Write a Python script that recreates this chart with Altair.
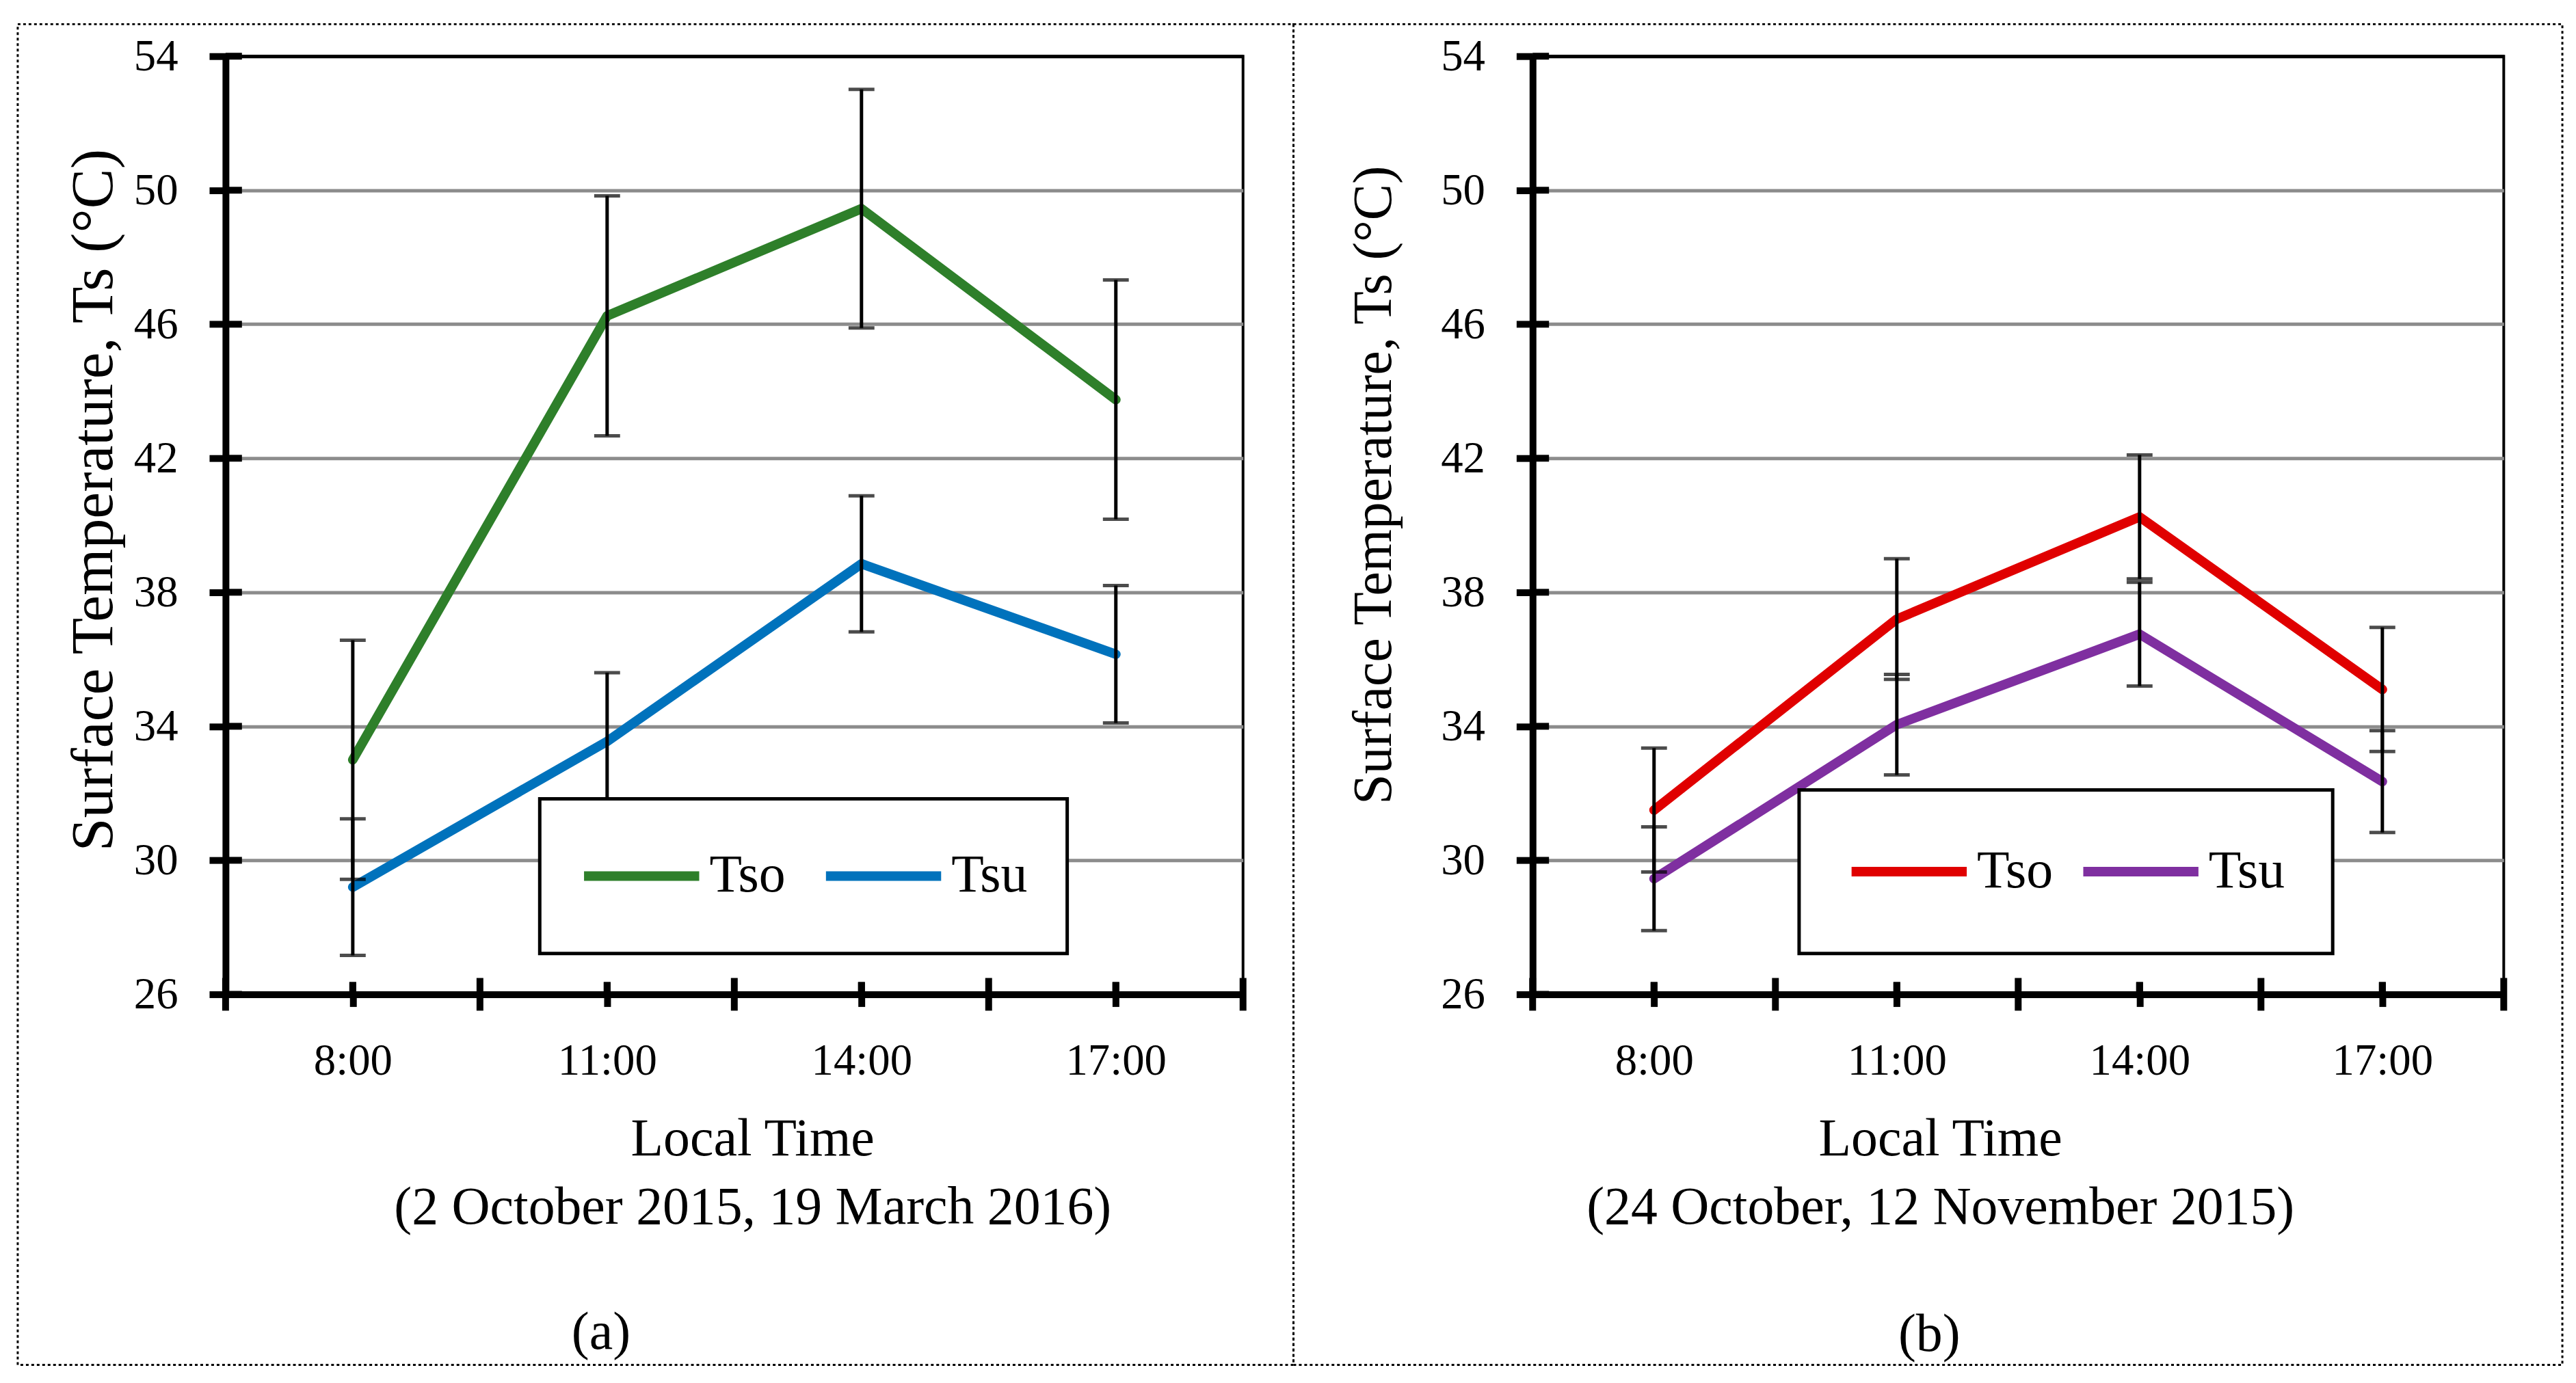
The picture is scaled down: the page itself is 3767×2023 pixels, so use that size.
import json
import altair as alt
import pandas as pd

# ---------------- data ----------------
categories = ["8:00", "11:00", "14:00", "17:00"]
series_names = ["Tso", "Tsu"]

a_tso = [33.0, 46.25, 49.45, 43.75]
a_tso_err = [3.57, 3.58, 3.56, 3.57]
a_tsu = [29.2, 33.55, 38.85, 36.15]
a_tsu_err = [2.04, 2.05, 2.03, 2.05]

b_tso = [31.5, 37.2, 40.25, 35.1]
b_tso_err = [1.85, 1.8, 1.85, 1.85]
b_tsu = [29.45, 34.05, 36.75, 32.35]
b_tsu_err = [1.55, 1.5, 1.55, 1.52]

y_ticks = [26, 30, 34, 38, 42, 46, 50, 54]

a_colors = ["#2e7f2a", "#0072bc"]
b_colors = ["#e00000", "#7f2fa0"]

a_subtitle = "(2 October 2015, 19 March 2016)"
b_subtitle = "(24 October, 12 November 2015)"
x_title = "Local Time"
y_title = "Surface Temperature, Ts (°C)"

FONT = "Liberation Serif"
H = 1377


def build(tso, tso_err, tsu, tsu_err):
    rows = []
    for name, vals, errs in [("Tso", tso, tso_err), ("Tsu", tsu, tsu_err)]:
        for i, (c, v, e) in enumerate(zip(categories, vals, errs)):
            rows.append(dict(time=c, pos=i + 0.5, series=name, value=v,
                             lo=v - e, hi=v + e))
    return pd.DataFrame(rows)


def panel(df, colors, W, subtitle, letter, yt_size, yt_x, yt_y, xt_x,
          leg, border, letter_pos):
    n = len(categories)
    xs = alt.Scale(domain=[0, n], nice=False, zero=False)
    ys = alt.Scale(domain=[y_ticks[0], y_ticks[-1]], nice=False, zero=False)
    label_expr = "%s[floor(datum.value)]" % json.dumps(categories)
    x_axis = alt.Axis(values=[i + 0.5 for i in range(n)], labelExpr=label_expr,
                      grid=False, tickSize=18, labelFontSize=65,
                      labelBaseline="alphabetic", labelPadding=99,
                      labelFlush=False, labelOverlap=False,
                      title=[x_title, subtitle], titleFontSize=78,
                      titleX=xt_x, titleY=236, titleBaseline="alphabetic",
                      titleAlign="center", titleLineHeight=100)
    y_axis = alt.Axis(values=y_ticks, tickSize=24, labelFontSize=65,
                      labelPadding=46, labelFlush=False, grid=True,
                      gridColor={"condition": {"test": "datum.value == %d" % y_ticks[-1],
                                               "value": "black"},
                                 "value": "#8c8c8c"},
                      title=y_title, titleFontSize=yt_size, titleX=yt_x,
                      titleY=yt_y, titleAngle=270, titleBaseline="alphabetic",
                      titleAlign="center")
    leg_x, leg_y, leg_pad, leg_col, leg_clip = leg
    color = alt.Color("series:N", scale=alt.Scale(domain=series_names, range=colors),
                      legend=alt.Legend(orient="none", legendX=leg_x, legendY=leg_y,
                                        direction="horizontal", title=None,
                                        symbolType="stroke", symbolSize=169 * 169,
                                        symbolStrokeWidth=14, labelFont=FONT,
                                        labelFontSize=78, labelColor="black",
                                        labelOffset=8, columnPadding=leg_col,
                                        padding=leg_pad, clipHeight=leg_clip,
                                        fillColor="white", strokeColor="black"))
    base = alt.Chart(df)
    one = pd.DataFrame({"label": [letter]})
    frame = alt.Chart(one).mark_rect(
        filled=False, stroke="black", strokeWidth=3, strokeDash=[4, 4]
    ).encode(x=alt.value(border[0]), x2=alt.value(border[1]),
             y=alt.value(border[2]), y2=alt.value(border[3]))
    tag = alt.Chart(one).mark_text(
        font=FONT, fontSize=78, color="black", align="center",
        baseline="alphabetic"
    ).encode(text="label:N", x=alt.value(letter_pos[0]), y=alt.value(letter_pos[1]))
    lines = base.mark_line(strokeWidth=14, strokeJoin="round", strokeCap="round").encode(
        x=alt.X("pos:Q", scale=xs, axis=x_axis),
        y=alt.Y("value:Q", scale=ys, axis=y_axis),
        color=color)
    bars = base.mark_rule(color="black", strokeWidth=5).encode(
        x="pos:Q", y="lo:Q", y2="hi:Q")
    caps = base.transform_fold(["lo", "hi"], as_=["k", "v"]).mark_tick(
        color="black", orient="horizontal", size=38, thickness=5).encode(
        x="pos:Q", y="v:Q")
    yin = alt.Chart(pd.DataFrame({"v": y_ticks})).mark_rule(
        color="black", strokeWidth=10).encode(
        y="v:Q", x=alt.value(0), x2=alt.value(24))
    xmaj = alt.Chart(pd.DataFrame({"b": list(range(n + 1))})).mark_rule(
        color="black", strokeWidth=10).encode(
        x="b:Q", y=alt.value(H - 24), y2=alt.value(H + 24))
    xmin = base.mark_rule(color="black", strokeWidth=10).encode(
        x="pos:Q", y=alt.value(H - 18), y2=alt.value(H))
    return alt.layer(lines, bars, caps, yin, xmaj, xmin, frame, tag).properties(
        width=W, height=H)


left = panel(build(a_tso, a_tso_err, a_tsu, a_tsu_err), a_colors, 1493, a_subtitle,
             "(a)", 88, -167, 651, 773, (461, 1090, 58, 52, 111),
             (-305, 1567, -47, 1921), (551, 1897))
right = panel(build(b_tso, b_tso_err, b_tsu, b_tsu_err), b_colors, 1425, b_subtitle,
              "(b)", 80, -208, 629, 598, (391, 1077, 70, 37, 100),
              (-351, 1511, -47, 1921), (582, 1900))

chart = alt.hconcat(left, right, spacing=425, bounds="flush").resolve_scale(
    color="independent", x="independent", y="independent"
).resolve_legend(color="independent").properties(
    padding={"left": 14, "top": 20, "right": 8, "bottom": 8}
).configure_view(stroke="black", strokeWidth=4).configure_axis(
    domainColor="black", domainWidth=10, tickColor="black", tickWidth=10,
    labelFont=FONT, labelColor="black", titleFont=FONT, titleColor="black",
    titleFontWeight="normal", gridWidth=5
).configure_legend(strokeWidth=5)

chart.save("out.html", embed_options={"renderer": "svg", "actions": False})
